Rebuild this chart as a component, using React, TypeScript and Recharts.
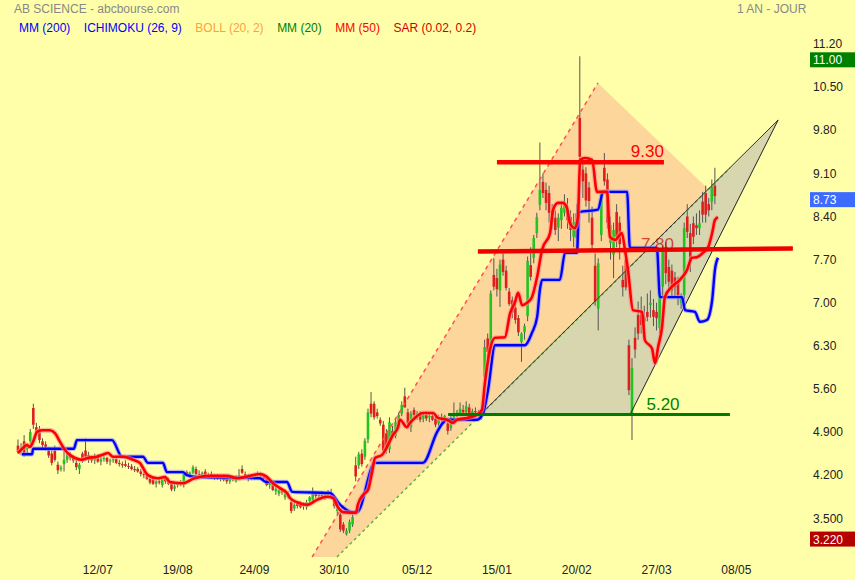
import React from 'react';
import {
  ComposedChart, Bar, Line, XAxis, YAxis, ReferenceLine, ReferenceArea, ReferenceDot,
} from 'recharts';

// daily candles, index 0 = first session shown
const opens = [
  4.68, 4.60, 4.75, 4.62, 4.75, 5.29, 4.98, 4.95, 4.75, 4.70, 4.60, 4.55, 4.60, 4.37, 4.30, 4.38, 4.45, 4.54, 4.48, 4.40,
  4.30, 4.55, 4.60, 4.53, 4.48, 4.44, 4.50, 4.42, 4.46, 4.48, 4.42, 4.44, 4.46, 4.40, 4.38, 4.38, 4.35, 4.34, 4.30, 4.30,
  4.26, 4.22, 4.20, 4.14, 4.12, 4.06, 4.10, 4.04, 4.16, 4.12, 4.07, 3.98, 4.04, 4.08, 4.04, 4.25, 4.20, 4.24, 4.30, 4.22,
  4.20, 4.26, 4.20, 4.22, 4.16, 4.20, 4.14, 4.18, 4.14, 4.10, 4.16, 4.10, 4.17, 4.30, 4.22, 4.16, 4.18, 4.16, 4.20, 4.22,
  4.18, 4.16, 4.04, 4.08, 3.94, 3.90, 3.94, 3.84, 3.90, 3.76, 3.66, 3.74, 3.72, 3.70, 3.68, 3.78, 3.80, 3.90, 3.86, 3.88,
  3.84, 3.90, 3.90, 3.82, 3.62, 3.56, 3.40, 3.24, 3.30, 3.40, 4.36, 4.36, 4.55, 4.50, 4.78, 5.36, 5.36, 5.22, 5.10, 5.02,
  4.88, 4.62, 4.92, 4.84, 5.06, 5.20, 5.48, 5.22, 4.98, 5.26, 5.16, 5.20, 5.12, 5.18, 5.14, 5.16, 5.12, 5.04, 5.14, 5.12,
  5.04, 4.96, 5.14, 5.20, 5.20, 5.26, 5.22, 5.30, 5.20, 5.24, 5.22, 5.22, 5.80, 6.42, 6.24, 7.45, 7.40, 7.20, 7.70, 7.52,
  7.18, 7.04, 6.92, 6.75, 6.36, 6.52, 6.78, 7.61, 7.73, 8.13, 8.59, 8.96, 8.83, 8.78, 8.50, 8.38, 8.22, 8.34, 8.46, 8.51,
  8.39, 8.07, 8.45, 10.00, 9.16, 9.10, 8.87, 8.38, 7.60, 6.90, 8.10, 9.19, 9.00, 7.97, 7.78, 8.47, 8.30, 7.37, 7.70, 6.31,
  5.18, 6.43, 6.80, 6.85, 6.77, 6.85, 6.96, 6.88, 6.85, 6.59, 7.26, 7.90, 7.58, 7.52, 7.41, 7.33, 7.00, 7.13, 8.40, 8.13,
  8.29, 8.26, 8.21, 8.64, 8.78, 8.60, 8.64, 8.90,
];
const highs = [
  4.78, 4.72, 4.85, 4.72, 4.95, 5.36, 5.05, 5.00, 4.80, 4.75, 4.65, 4.60, 4.68, 4.42, 4.36, 4.64, 4.58, 4.58, 4.52, 4.45,
  4.40, 4.58, 4.80, 4.58, 4.52, 4.55, 4.54, 4.50, 4.52, 4.50, 4.47, 4.50, 4.48, 4.45, 4.42, 4.44, 4.40, 4.38, 4.35, 4.33,
  4.30, 4.26, 4.22, 4.18, 4.15, 4.12, 4.14, 4.18, 4.20, 4.16, 4.10, 4.06, 4.10, 4.12, 4.26, 4.28, 4.26, 4.36, 4.34, 4.28,
  4.26, 4.30, 4.24, 4.26, 4.22, 4.22, 4.20, 4.21, 4.18, 4.18, 4.20, 4.20, 4.30, 4.36, 4.26, 4.22, 4.22, 4.22, 4.26, 4.24,
  4.22, 4.20, 4.10, 4.10, 4.02, 3.98, 3.98, 3.94, 3.94, 3.80, 3.76, 3.78, 3.78, 3.76, 3.80, 3.86, 4.00, 3.94, 3.92, 3.94,
  3.92, 3.96, 3.98, 3.86, 3.70, 3.60, 3.44, 3.34, 3.48, 3.60, 4.50, 4.58, 4.62, 4.80, 5.28, 5.55, 5.40, 5.28, 5.14, 5.08,
  4.95, 5.14, 5.00, 5.12, 5.22, 5.40, 5.62, 5.28, 5.24, 5.30, 5.24, 5.24, 5.22, 5.24, 5.20, 5.20, 5.16, 5.18, 5.20, 5.18,
  5.08, 5.16, 5.38, 5.26, 5.38, 5.34, 5.40, 5.36, 5.28, 5.30, 5.26, 5.28, 6.40, 6.50, 7.20, 7.72, 7.55, 7.70, 7.80, 7.60,
  7.24, 7.10, 6.98, 6.80, 6.52, 6.66, 7.75, 7.90, 8.10, 8.46, 9.60, 9.10, 8.95, 8.90, 8.60, 8.50, 8.45, 8.60, 8.76, 8.70,
  8.50, 8.45, 8.60, 11.00, 9.30, 9.20, 8.96, 8.56, 7.80, 7.72, 8.82, 9.43, 9.10, 8.40, 8.30, 8.60, 8.40, 7.60, 7.90, 6.40,
  6.10, 6.60, 7.02, 7.10, 6.95, 7.15, 7.20, 7.06, 7.00, 7.25, 7.92, 7.98, 7.70, 7.62, 7.50, 7.42, 7.15, 8.30, 8.60, 8.28,
  8.40, 8.45, 8.50, 8.80, 8.90, 8.70, 9.00, 9.19,
];
const lows = [
  4.55, 4.52, 4.50, 4.55, 4.70, 4.95, 4.85, 4.72, 4.62, 4.60, 4.48, 4.36, 4.42, 4.22, 4.26, 4.26, 4.40, 4.44, 4.40, 4.28,
  4.22, 4.40, 4.45, 4.40, 4.40, 4.38, 4.40, 4.36, 4.42, 4.38, 4.36, 4.40, 4.38, 4.34, 4.32, 4.33, 4.30, 4.28, 4.25, 4.24,
  4.18, 4.15, 4.12, 4.05, 4.04, 4.00, 4.05, 4.00, 4.06, 4.04, 3.94, 3.94, 4.00, 4.02, 4.00, 4.18, 4.16, 4.22, 4.20, 4.16,
  4.14, 4.18, 4.14, 4.14, 4.12, 4.12, 4.10, 4.10, 4.06, 4.06, 4.10, 4.08, 4.12, 4.22, 4.14, 4.10, 4.12, 4.12, 4.16, 4.14,
  4.10, 4.02, 3.98, 3.94, 3.88, 3.86, 3.88, 3.80, 3.82, 3.58, 3.62, 3.66, 3.66, 3.64, 3.64, 3.74, 3.76, 3.82, 3.80, 3.82,
  3.80, 3.84, 3.84, 3.66, 3.56, 3.28, 3.26, 3.22, 3.26, 3.36, 4.10, 4.30, 4.34, 4.45, 4.72, 5.14, 5.10, 5.12, 5.00, 4.56,
  4.55, 4.56, 4.80, 4.80, 5.00, 5.16, 5.30, 5.00, 4.90, 5.12, 5.10, 5.06, 5.06, 5.08, 5.06, 5.08, 4.98, 5.00, 5.06, 5.04,
  4.86, 4.92, 5.10, 5.14, 5.16, 5.18, 5.20, 5.16, 5.12, 5.18, 5.14, 5.10, 5.70, 6.10, 6.16, 7.20, 7.10, 6.93, 7.44, 7.20,
  6.95, 6.75, 6.66, 6.46, 6.04, 6.40, 6.70, 7.36, 7.64, 8.05, 8.50, 8.70, 8.50, 8.30, 8.20, 8.10, 8.00, 8.20, 8.40, 8.20,
  8.00, 7.90, 7.85, 9.20, 8.70, 8.56, 8.30, 7.86, 6.95, 6.55, 8.00, 8.90, 8.20, 7.70, 7.40, 7.90, 7.70, 7.10, 7.20, 5.50,
  4.77, 6.10, 6.40, 6.50, 6.55, 6.70, 6.76, 6.62, 6.55, 6.50, 7.10, 7.30, 7.20, 7.10, 7.10, 6.96, 6.90, 7.05, 8.05, 7.50,
  7.95, 8.10, 8.10, 8.30, 8.30, 8.40, 8.50, 8.60,
];
const closes = [
  4.58, 4.64, 4.53, 4.66, 4.90, 5.02, 4.88, 4.77, 4.69, 4.66, 4.52, 4.40, 4.45, 4.28, 4.32, 4.45, 4.54, 4.48, 4.44, 4.33,
  4.37, 4.46, 4.50, 4.45, 4.44, 4.50, 4.42, 4.46, 4.48, 4.42, 4.44, 4.46, 4.40, 4.38, 4.36, 4.35, 4.34, 4.30, 4.28, 4.26,
  4.22, 4.20, 4.14, 4.08, 4.06, 4.10, 4.08, 4.16, 4.10, 4.06, 3.97, 4.02, 4.08, 4.06, 4.22, 4.20, 4.24, 4.33, 4.22, 4.20,
  4.24, 4.20, 4.18, 4.16, 4.20, 4.14, 4.18, 4.12, 4.10, 4.16, 4.12, 4.17, 4.20, 4.24, 4.16, 4.18, 4.14, 4.20, 4.22, 4.18,
  4.14, 4.04, 4.06, 3.96, 3.98, 3.96, 3.92, 3.90, 3.86, 3.62, 3.72, 3.70, 3.68, 3.74, 3.76, 3.84, 3.90, 3.86, 3.88, 3.86,
  3.90, 3.88, 3.86, 3.70, 3.66, 3.32, 3.30, 3.30, 3.44, 3.52, 4.18, 4.54, 4.38, 4.76, 5.22, 5.20, 5.14, 5.16, 5.04, 4.60,
  4.62, 5.06, 4.84, 5.06, 5.18, 5.34, 5.30, 5.04, 5.20, 5.18, 5.20, 5.10, 5.18, 5.12, 5.16, 5.10, 5.02, 5.14, 5.10, 5.16,
  4.92, 5.12, 5.20, 5.22, 5.28, 5.22, 5.32, 5.20, 5.24, 5.22, 5.20, 5.16, 6.28, 6.20, 7.15, 7.26, 7.22, 7.62, 7.50, 7.24,
  6.98, 6.84, 6.72, 6.52, 6.50, 6.62, 7.68, 7.42, 8.05, 8.39, 8.83, 8.78, 8.62, 8.46, 8.31, 8.18, 8.38, 8.54, 8.62, 8.34,
  8.18, 8.31, 8.05, 9.37, 8.97, 8.66, 8.65, 7.94, 7.02, 7.64, 8.78, 8.97, 8.30, 8.26, 8.18, 8.07, 7.95, 7.25, 7.25, 5.58,
  5.94, 6.24, 6.50, 6.64, 6.69, 6.77, 7.00, 6.77, 6.75, 7.17, 7.83, 7.48, 7.34, 7.20, 7.25, 7.12, 7.08, 8.21, 8.15, 7.66,
  8.07, 8.21, 8.29, 8.43, 8.43, 8.50, 8.88, 8.73,
];

// red indicator line, [session index, price]
const redPts: [number, number][] = [
  [0, 4.56], [1.6, 4.64], [2.9, 4.69], [3.9, 4.66], [4.9, 4.74], [6.2, 4.9], [7.8, 4.93], [10.4, 4.93], [12.1, 4.88],
  [13.7, 4.74], [15.3, 4.61], [16.9, 4.53], [18.6, 4.48], [20.8, 4.45], [22.8, 4.48], [25.7, 4.5], [28, 4.54], [29.3, 4.56],
  [30.9, 4.5], [34.2, 4.5], [37.5, 4.45], [39.7, 4.4], [40.7, 4.32], [42.3, 4.2], [45.3, 4.15], [47.9, 4.17], [49.5, 4.09],
  [53.7, 4.07], [57, 4.14], [62.5, 4.19], [68.1, 4.19], [71.3, 4.15], [75.6, 4.19], [78.8, 4.22], [81.1, 4.17], [83.1, 4.07],
  [85.3, 3.99], [87.6, 3.91], [88.6, 3.83], [90.9, 3.76], [94.1, 3.72], [97.4, 3.8], [100.7, 3.85], [102.6, 3.83],
  [104.2, 3.68], [105.9, 3.6], [110.1, 3.59], [110.7, 3.72], [112.4, 3.88], [114, 3.96], [115.3, 4.24], [116.3, 4.48],
  [118.6, 4.53], [120.2, 4.66], [122.1, 4.85], [123.8, 4.98], [124.4, 5.1], [126.7, 4.98], [127.7, 5.05], [129.3, 5.13],
  [131.9, 5.21], [135.2, 5.21], [136.8, 5.13], [139.7, 5.1], [141.7, 5.05], [143, 5.1], [146.3, 5.13], [149.5, 5.18],
  [151.1, 5.26], [152.1, 5.7], [153.7, 6.23], [155.4, 6.43], [158.6, 6.44], [160.3, 6.83], [161.9, 7.01], [162.9, 7.16],
  [164.2, 6.96], [165.8, 7.0], [167.4, 7.09], [169.1, 7.42], [170.7, 7.86], [173.3, 8.13], [174.3, 8.51], [175.9, 8.62],
  [177.5, 8.62], [178.8, 8.54], [179.8, 8.29], [181.4, 8.21], [182.4, 8.39], [183.1, 9.32], [184.7, 9.35], [187, 9.32],
  [188.6, 8.8], [191.9, 8.8], [192.8, 8.07], [194.5, 8.02], [196.7, 8.13], [197.7, 7.86], [198.7, 7.53], [200.3, 6.88],
  [203.3, 6.85], [204.2, 6.39], [206.5, 6.26], [207.5, 6.02], [208.5, 6.28], [209.8, 6.61], [210.7, 7.09], [213, 7.26],
  [215.6, 7.37], [217.9, 7.53], [219.5, 7.73], [221.2, 7.74], [223.1, 7.81], [224.8, 7.9], [226.1, 8.13], [227, 8.34],
  [228, 8.39],
];

// blue indicator line, [session index, price]
const bluePts: [number, number][] = [
  [1.3, 4.54], [4.6, 4.54], [4.9, 4.63], [18.2, 4.63], [19.2, 4.77], [30.6, 4.77], [33.9, 4.5], [40.7, 4.5], [42.3, 4.4],
  [47.2, 4.4], [48.5, 4.25], [53.7, 4.25], [55, 4.2], [58.3, 4.17], [78.8, 4.15], [80.8, 4.09], [87.6, 4.09], [89.3, 3.93],
  [101.6, 3.91], [104.9, 3.72], [108.8, 3.6], [110.4, 3.6], [116.3, 4.4], [131.9, 4.4], [136.5, 4.9], [138.4, 5.05],
  [139.7, 5.1], [149.5, 5.1], [151.5, 5.21], [153.1, 5.58], [155.4, 6.31], [165.1, 6.31], [167.4, 6.51], [169.1, 6.77],
  [170, 7.21], [170.7, 7.37], [176.5, 7.37], [178.2, 7.81], [182.1, 7.81], [182.7, 8.47], [188.9, 8.51], [190.6, 8.8],
  [198.4, 8.8], [199.3, 7.89], [208.1, 7.89], [209.1, 7.09], [216.3, 7.09], [217.3, 6.88], [220.5, 6.85], [222.1, 6.69],
  [224.4, 6.72], [226.1, 7.04], [227, 7.53], [228, 7.73],
];

// drawn objects, [session index, price]
const orangeZone: [number, number][] = [[95.8, 2.872], [188.9, 10.567], [224.8, 8.846], [103.9, 2.872]];
const triangle: [number, number][] = [[150.5, 5.177], [247.6, 9.966], [199.3, 5.177]];

const xTicks = [26, 52, 77, 103, 130, 156, 182, 208, 234];
const xLabels = ['12/07', '19/08', '24/09', '30/10', '05/12', '15/01', '20/02', '27/03', '08/05'];
const yTicks = [11.2, 10.5, 9.8, 9.1, 8.4, 7.7, 7.0, 6.3, 5.6, 4.9, 4.2, 3.5];
const yLabels = ['11.20', '10.50', '9.80', '9.10', '8.40', '7.70', '7.00', '6.30', '5.60', '4.900', '4.200', '3.500'];

const legend = [
  { name: 'MM (200)', color: '#0000ff' },
  { name: 'ICHIMOKU (26, 9)', color: '#0000ff' },
  { name: 'BOLL (20, 2)', color: '#ffa040' },
  { name: 'MM (20)', color: '#008000' },
  { name: 'MM (50)', color: '#ff0000' },
  { name: 'SAR (0.02, 0.2)', color: '#d00000' },
];

const FONT = '"Liberation Sans", Arial, sans-serif';
const BG = '#ffffaa';

const candles = opens.map((o, i) => ({ i, o, h: highs[i], l: lows[i], c: closes[i] }));
const redData = redPts.map(([i, v]) => ({ i, v }));
const blueData = bluePts.map(([i, v]) => ({ i, v }));

const Candle = (props: any) => {
  const { x, y, width, height, payload } = props;
  if (!payload || x == null) return null;
  const top = Math.min(y, y + height);
  const bot = Math.max(y, y + height);
  const span = payload.h - payload.l;
  const py = (v: number) => (span === 0 ? top : top + ((payload.h - v) / span) * (bot - top));
  const cx = x + width / 2;
  const yo = py(payload.o);
  const yc = py(payload.c);
  const up = payload.c >= payload.o;
  return (
    <g>
      <line x1={cx} x2={cx} y1={top} y2={bot} stroke="#555" strokeWidth={1} />
      <rect x={cx - 1.3} y={Math.min(yo, yc)} width={2.6} height={Math.max(1, Math.abs(yo - yc))}
        fill={up ? '#22c422' : '#e01e1e'} />
    </g>
  );
};

// polygon in data units, placed through the ReferenceArea box
function polygon(pts: [number, number][], fill: string, stroke = 'none') {
  const xs = pts.map((p) => p[0]);
  const ys = pts.map((p) => p[1]);
  const x1 = Math.min(...xs), x2 = Math.max(...xs), y1 = Math.min(...ys), y2 = Math.max(...ys);
  const shape = (p: any) => {
    const s = pts
      .map(([vx, vy]) => `${p.x + ((vx - x1) / (x2 - x1)) * p.width},${p.y + ((y2 - vy) / (y2 - y1)) * p.height}`)
      .join(' ');
    return <polygon points={s} fill={fill} stroke={stroke} strokeWidth={1} />;
  };
  return { x1, x2, y1, y2, shape };
}

const orangePoly = polygon(orangeZone, '#fdd69c');
const triPoly = polygon(triangle, '#d8d6ae');

const badge = (text: string, color: string) => (p: any) => {
  const vb = p.viewBox;
  const bx = vb.x + vb.width + 10;
  return (
    <g>
      <rect x={bx} y={vb.y - 4} width={46} height={15} fill={color} />
      <text x={bx + 3} y={vb.y + 8} fill="#fff" fontSize={12} fontFamily={FONT}>{text}</text>
    </g>
  );
};

const priceText = (text: string, color: string, opacity = 1) => (p: any) => (
  <text x={p.cx} y={p.cy} textAnchor="middle" fontSize={17} fill={color} fillOpacity={opacity} fontFamily={FONT}>
    {text}
  </text>
);

const XTick = (p: any) => (
  <text x={p.x} y={p.y} dy="0.71em" textAnchor="middle" fontSize={12} fill="#222" fontFamily={FONT}>
    {xLabels[xTicks.indexOf(p.payload.value)]}
  </text>
);

const YTick = (p: any) => (
  <text x={p.x + 5} y={p.y} dy="0.355em" textAnchor="start" fontSize={12} fill="#222" fontFamily={FONT}>
    {yLabels[yTicks.indexOf(p.payload.value)]}
  </text>
);

export default function App() {
  return (
    <div style={{ position: 'absolute', left: 0, top: 0, width: 855, height: 580, background: BG, fontFamily: FONT }}>
      <div style={{ position: 'absolute', left: 14, top: 2, fontSize: 12, lineHeight: '14px', color: '#888' }}>
        AB SCIENCE - abcbourse.com
      </div>
      <div style={{ position: 'absolute', left: 737, top: 2, fontSize: 12, lineHeight: '14px', color: '#888' }}>
        1 AN - JOUR
      </div>
      <div style={{ position: 'absolute', left: 19, top: 21, display: 'flex', gap: 13.5, fontSize: 12, lineHeight: '14px' }}>
        {legend.map((l) => (
          <span key={l.name} style={{ color: l.color }}>{l.name}</span>
        ))}
      </div>
      <ComposedChart width={855} height={580} data={candles} margin={{ top: 0, right: 0, bottom: 0, left: 0 }}>
        <XAxis dataKey="i" type="number" domain={[-5.863, 254.72]} allowDataOverflow ticks={xTicks} interval={0}
          tick={<XTick />} tickLine={false} axisLine={false} height={23} />
        <YAxis type="number" orientation="right" domain={[2.872, 11.914]} allowDataOverflow ticks={yTicks} interval={0}
          tick={<YTick />} tickLine={false} axisLine={false} width={55} />

        <ReferenceArea x1={orangePoly.x1} x2={orangePoly.x2} y1={orangePoly.y1} y2={orangePoly.y2}
          shape={orangePoly.shape} ifOverflow="visible" />
        <ReferenceArea x1={triPoly.x1} x2={triPoly.x2} y1={triPoly.y1} y2={triPoly.y2}
          shape={triPoly.shape} ifOverflow="visible" />

        <Bar dataKey={(d: any) => [d.l, d.h]} barSize={3} shape={<Candle />} isAnimationActive={false} />

        <ReferenceLine segment={[{ x: orangeZone[0][0], y: orangeZone[0][1] }, { x: orangeZone[1][0], y: orangeZone[1][1] }]}
          stroke="#ff5050" strokeWidth={1.5} strokeDasharray="4 4" ifOverflow="visible" />
        <ReferenceLine segment={[{ x: 103.9, y: 2.872 }, { x: 231.9, y: 9.187 }]}
          stroke="#6ab040" strokeWidth={1.5} strokeDasharray="3 3" ifOverflow="visible" />
        <ReferenceLine segment={[{ x: triangle[0][0], y: triangle[0][1] }, { x: triangle[1][0], y: triangle[1][1] }]}
          stroke="#333" strokeWidth={1} ifOverflow="visible" />
        <ReferenceLine segment={[{ x: triangle[2][0], y: triangle[2][1] }, { x: triangle[1][0], y: triangle[1][1] }]}
          stroke="#222" strokeWidth={1} ifOverflow="visible" />

        <Line data={blueData} dataKey="v" type="monotone" stroke="#8c8cff" strokeWidth={4.5} strokeOpacity={0.6}
          dot={false} activeDot={false} isAnimationActive={false} />
        <Line data={blueData} dataKey="v" type="monotone" stroke="#0000ff" strokeWidth={2.4}
          dot={false} activeDot={false} isAnimationActive={false} />
        <Line data={redData} dataKey="v" type="monotone" stroke="#ff9090" strokeWidth={5} strokeOpacity={0.6}
          dot={false} activeDot={false} isAnimationActive={false} />
        <Line data={redData} dataKey="v" type="monotone" stroke="#ff0000" strokeWidth={2.6}
          dot={false} activeDot={false} isAnimationActive={false} />

        <ReferenceLine segment={[{ x: 156, y: 9.28 }, { x: 210.4, y: 9.28 }]} stroke="#ff0000" strokeWidth={4.5}
          ifOverflow="visible" />
        <ReferenceLine segment={[{ x: 149.8, y: 7.83 }, { x: 252.4, y: 7.88 }]} stroke="#ee0000" strokeWidth={4.5}
          ifOverflow="visible" />
        <ReferenceLine segment={[{ x: 140.1, y: 5.185 }, { x: 231.9, y: 5.185 }]} stroke="#007a00" strokeWidth={3.2}
          ifOverflow="visible" />

        <ReferenceDot x={205.0} y={9.366} r={1} shape={priceText('9.30', '#ff0000')} ifOverflow="visible" />
        <ReferenceDot x={208.3} y={7.856} r={1} shape={priceText('7.80', '#c00000', 0.7)} ifOverflow="visible" />
        <ReferenceDot x={210.1} y={5.258} r={1} shape={priceText('5.20', '#008000')} ifOverflow="visible" />

        <ReferenceLine y={11.0} stroke="none" label={badge('11.00', '#008000')} ifOverflow="visible" />
        <ReferenceLine y={8.73} stroke="none" label={badge('8.73', '#3d6bff')} ifOverflow="visible" />
        <ReferenceLine y={3.22} stroke="none" label={badge('3.220', '#b40000')} ifOverflow="visible" />
      </ComposedChart>
    </div>
  );
}
